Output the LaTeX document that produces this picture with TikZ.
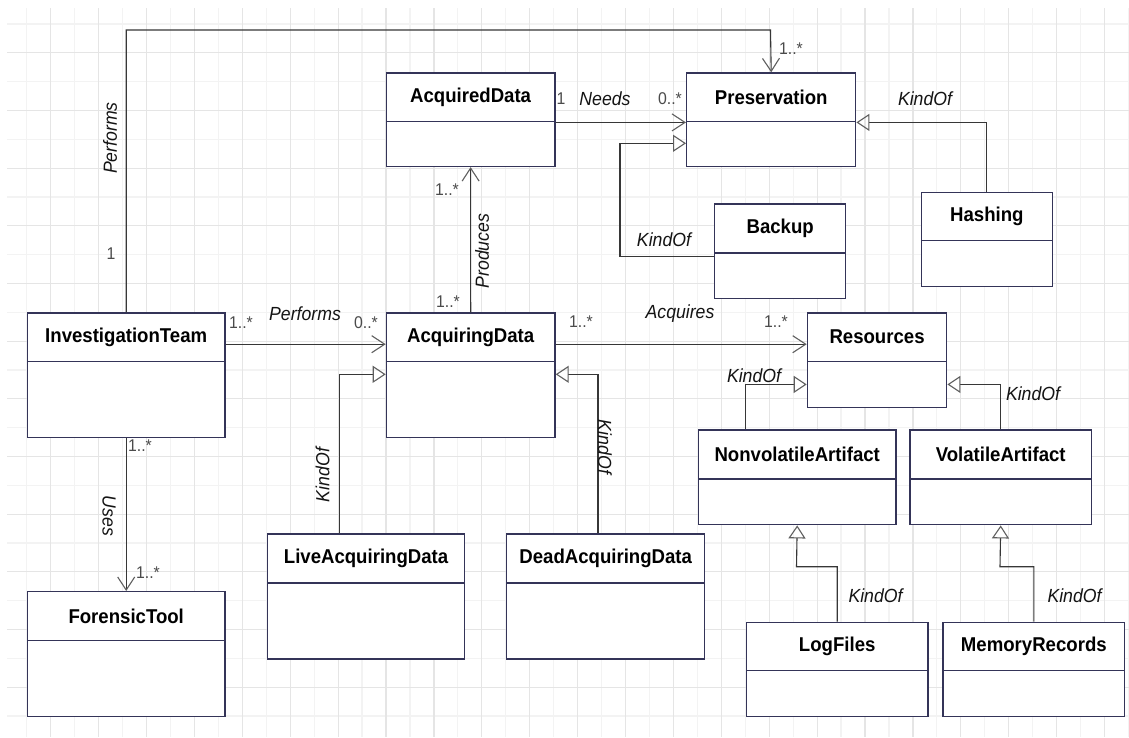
\documentclass[tikz,border=0pt]{standalone}
\usepackage{fontspec}
\setmainfont{Liberation Sans}[FakeStretch = 0.93]
\usetikzlibrary{arrows.meta}

\definecolor{boxline}{RGB}{52,52,88}
\definecolor{wire}{RGB}{55,55,55}
\definecolor{tipgray}{RGB}{95,95,95}
\definecolor{multgray}{RGB}{75,75,75}
\definecolor{gridlight}{RGB}{243,243,243}
\definecolor{griddark}{RGB}{229,229,229}

\tikzset{
  clshead/.style = {draw = boxline, line width = 1.4pt, fill = white, inner sep = 0pt, text = black, font = \fontsize{20}{24}\selectfont\bfseries},
  clsbody/.style = {draw = boxline, line width = 1.4pt, fill = white, inner sep = 0pt},
  assoc/.style = {draw = wire, line width = 1.1pt, -{Straight Barb[length = 13pt, width = 17pt, line width = 1.1pt, color = tipgray]}},
  kindof/.style = {draw = wire, line width = 1.1pt, -{Triangle[open, length = 13pt, width = 17pt, line width = 1.1pt, color = tipgray]}},
  role/.style = {inner sep = 0pt, text = black!92, font = \fontsize{19}{22}\selectfont\itshape},
  mult/.style = {inner sep = 0pt, text = multgray, font = \fontsize{17}{20}\selectfont},
}

\newcommand{\umlclass}[7]{%
  \node [clshead, anchor = north west, minimum width = {#4-#2}, minimum height = {#5-#3}] (#1) at (#2,#3) {#7};
  \node [clsbody, anchor = north west, minimum width = {#4-#2}, minimum height = {#6-#5}] (#1b) at (#2,#5) {};
}

\begin{document}
\begin{tikzpicture}[x = 1pt, y = -1pt]

\useasboundingbox [fill = white] (0,0) rectangle (1129,737);
\foreach \k in {1,3,...,47} \draw [gridlight, line width = 1.2pt] ({2.8+23.95*\k},8) -- ({2.8+23.95*\k},737);
\foreach \j in {0,2,...,24} \draw [gridlight, line width = 1.2pt] (7,{24+28.83*\j}) -- (1129,{24+28.83*\j});
\foreach \k in {2,4,...,46} \draw [griddark, line width = 1.2pt] ({2.8+23.95*\k},8) -- ({2.8+23.95*\k},737);
\foreach \j in {1,3,...,23} \draw [griddark, line width = 1.2pt] (7,{24+28.83*\j}) -- (1129,{24+28.83*\j});

\umlclass{acqd}{385.5}{72.3}{554.3}{121}{165.7}{AcquiredData}
\umlclass{pres}{686}{72.3}{855}{121}{165.7}{Preservation}
\umlclass{bkup}{714}{203.3}{845}{252.3}{297.7}{Backup}
\umlclass{hash}{920.7}{191.7}{1051.7}{240}{286}{Hashing}
\umlclass{team}{26.7}{312.3}{224.3}{360.7}{436.7}{InvestigationTeam}
\umlclass{acqg}{385.7}{312.3}{554.3}{360.7}{436.7}{AcquiringData}
\umlclass{res}{806.7}{312.3}{946}{360.7}{406.7}{Resources}
\umlclass{nonv}{697.7}{429.3}{895.3}{478.3}{524}{NonvolatileArtifact}
\umlclass{vol}{909.3}{429.3}{1090.7}{478.3}{524}{VolatileArtifact}
\umlclass{live}{266.7}{533.3}{464}{582.3}{658.3}{LiveAcquiringData}
\umlclass{dead}{506}{533.3}{704}{582.3}{658.3}{DeadAcquiringData}
\umlclass{tool}{26.7}{591}{224.3}{640}{716}{ForensicTool}
\umlclass{log}{745.7}{621.7}{927.3}{670}{716}{LogFiles}
\umlclass{mem}{942.3}{621.7}{1124}{670}{716}{MemoryRecords}

\coordinate (topbend) at (770.5,30);
\coordinate (bkbend) at (620,143.3);
\coordinate (lgbend) at (796.5,566.7);
\coordinate (mmbend) at (1000,566.7);

\draw [assoc] (team.north) |- (topbend) -- (pres.north);
\draw [assoc] (acqd.south east) -- (pres.south west);
\draw [assoc] (acqg.north) -- (acqdb.south);
\draw [kindof] ([yshift = -3pt]bkup.south west) -| (bkbend) -- (bkbend -| pres.west);
\draw [kindof] (hash.north) |- (pres.south east);
\draw [assoc] ([yshift = -7pt]team.east) -- ([yshift = -7pt]acqg.west);
\draw [assoc] (teamb.south) -- (tool.north);
\draw [kindof] ([xshift = -27pt]live.north) |- ([yshift = -13.6pt]acqgb.north west);
\draw [kindof] ([xshift = -7.7pt]dead.north) |- ([yshift = -13.6pt]acqgb.north east);
\draw [assoc] ([yshift = -7pt]acqg.east) -- ([yshift = -7pt]res.west);
\draw [kindof] ([xshift = -52pt]nonv.north) |- (resb.west);
\draw [kindof] (vol.north) |- (resb.east);
\draw [kindof] (log.north) |- (lgbend) -- (nonvb.south);
\draw [kindof] (mem.north) |- (mmbend) -- (volb.south);

\node [role, rotate = 90] (perf1) at (110,138) {Performs};
\node [mult] (m1) at (111,254) {1};
\node [mult] (m2) at (791,49) {1..*};
\node [mult] (m3) at (561,99) {1};
\node [role] (needs) at (605,99) {Needs};
\node [mult] (m4) at (670,99) {0..*};
\node [role] (ko1) at (925,99) {KindOf};
\node [role] (ko2) at (664,240) {KindOf};
\node [mult] (m5) at (447,190) {1..*};
\node [role, rotate = 90] (prod) at (482,251) {Produces};
\node [mult] (m6) at (448,302) {1..*};
\node [mult] (m7) at (241,323) {1..*};
\node [role] (perf2) at (305,314) {Performs};
\node [mult] (m8) at (366,323) {0..*};
\node [mult] (m9) at (581,322) {1..*};
\node [role] (acqs) at (680,314) {Acquires};
\node [mult] (m10) at (776,322) {1..*};
\node [mult] (m11) at (140,446) {1..*};
\node [role, rotate = -90] (uses) at (109,516) {Uses};
\node [mult] (m12) at (148,573) {1..*};
\node [role, rotate = 90] (ko3) at (322.5,475) {KindOf};
\node [role, rotate = -90] (ko4) at (605,447) {KindOf};
\node [role] (ko5) at (754,376) {KindOf};
\node [role] (ko6) at (1033,394) {KindOf};
\node [role] (ko7) at (875.5,596) {KindOf};
\node [role] (ko8) at (1074.5,596) {KindOf};

\end{tikzpicture}
\end{document}
